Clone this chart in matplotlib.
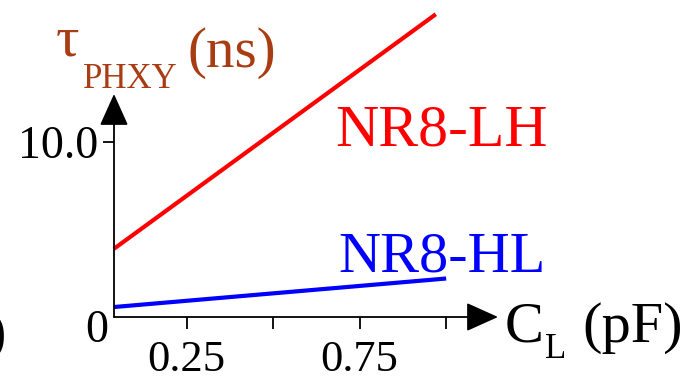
import matplotlib
matplotlib.use("Agg")
import matplotlib.pyplot as plt

# Data
lh_x = [0.04, 0.97]
lh_y = [3.9, 17.3]
hl_x = [0.04, 1.00]
hl_y = [0.57, 2.2]
xticks = [0.25, 0.5, 0.75, 1.0]
xtick_labels = ["0.25", "", "0.75", ""]
yticks = [10.0]
ytick_labels = ["10.0"]

W, H = 700, 381
fig = plt.figure(figsize=(7, 3.81), dpi=100)
plt.rcParams['font.family'] = ['Liberation Serif', 'DejaVu Serif']

x0_px, y0_px = 114, 317
px_per_x = 346.0
px_per_y = 17.5
xmin = 0.04
xmax = xmin + (W - x0_px) / px_per_x
ymax = y0_px / px_per_y
ax = fig.add_axes([x0_px / W, (H - y0_px) / H, (W - x0_px) / W, y0_px / H])
ax.set_xlim(xmin, xmax)
ax.set_ylim(0, ymax)
for s in ax.spines.values():
    s.set_visible(False)

ax.plot(lh_x, lh_y, color='#ff0000', lw=3.0, solid_capstyle='butt', clip_on=False)
ax.plot(hl_x, hl_y, color='#0000ff', lw=3.0, solid_capstyle='butt', clip_on=False)

# axis arrows
x_tip = xmin + (498 - x0_px) / px_per_x
y_tip = (y0_px - 94) / px_per_y
ap = dict(arrowstyle='-|>,head_length=1.0,head_width=0.45', color='black', lw=1.3,
          shrinkA=0, shrinkB=0, mutation_scale=20)
ax.annotate('', xy=(x_tip, 0), xytext=(xmin, 0), arrowprops=ap, annotation_clip=False)
ax.annotate('', xy=(xmin, y_tip), xytext=(xmin, 0), arrowprops=ap, annotation_clip=False)

ax.set_xticks(xticks)
ax.set_xticklabels(xtick_labels)
ax.set_yticks(yticks)
ax.set_yticklabels(ytick_labels)
ax.tick_params(axis='x', direction='out', length=8.5, width=1.3, pad=8, labelsize=32)
ax.tick_params(axis='y', direction='out', length=8, width=1.3, pad=3, labelsize=33)

# origin label
fig.text(97 / W, 1 - 342 / H, "0", fontsize=33, ha='center', va='baseline')

# y-label
brown = '#a83c12'
fig.text(56 / W, 1 - 56 / H, "τ", fontsize=42, color=brown, ha='left', va='baseline')
fig.text(83 / W, 1 - 88 / H, "PHXY", fontsize=25, color=brown, ha='left', va='baseline')
fig.text(187 / W, 1 - 67 / H, "(ns)", fontsize=41, color=brown, ha='left', va='baseline')

# series labels
fig.text(335 / W, 1 - 145 / H, "NR8-LH", fontsize=43, color='#ff0000', ha='left', va='baseline')
fig.text(338 / W, 1 - 272 / H, "NR8-HL", fontsize=42, color='#0000ff', ha='left', va='baseline')

# x-label
fig.text(505 / W, 1 - 342 / H, "C", fontsize=42, ha='left', va='baseline')
fig.text(545 / W, 1 - 358 / H, "L", fontsize=25, ha='left', va='baseline')
fig.text(582 / W, 1 - 342 / H, "(pF)", fontsize=42, ha='left', va='baseline')

# partial glyph at left edge (cropped neighbour text in the reference)
fig.text(-14 / W, 1 - 350 / H, ")", fontsize=42, ha='left', va='baseline')

fig.savefig("out.png", dpi=100)
